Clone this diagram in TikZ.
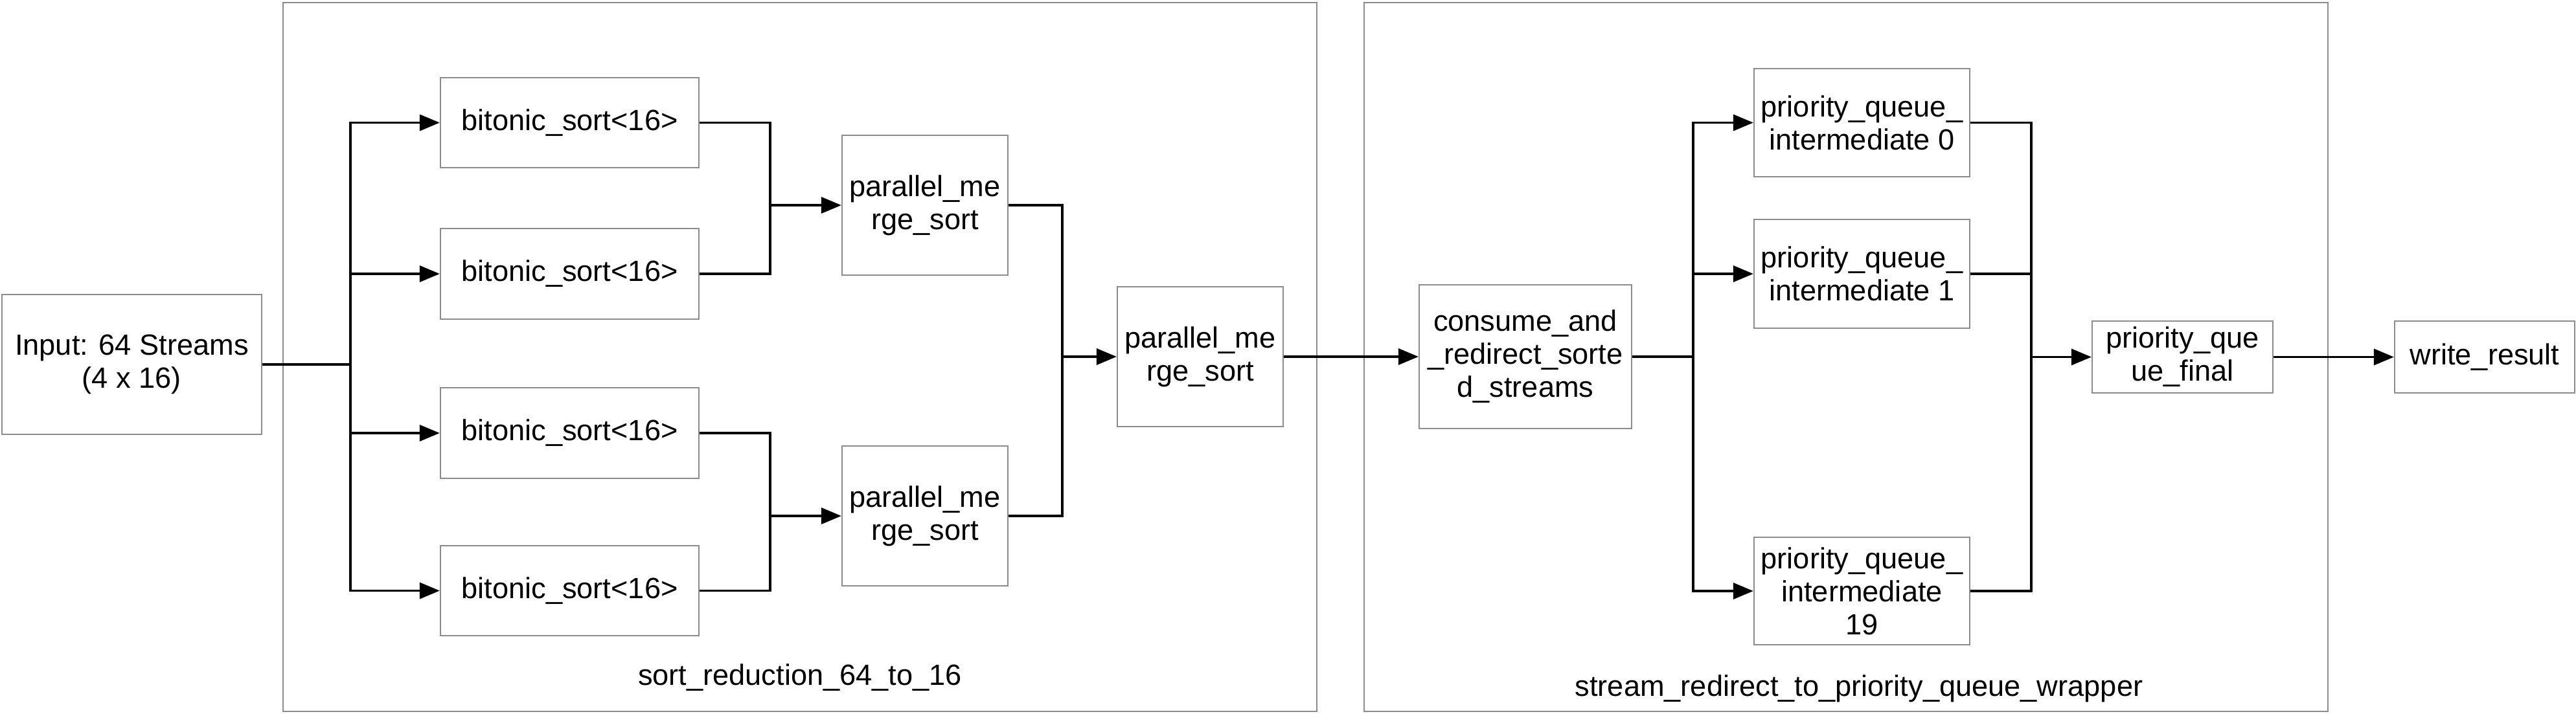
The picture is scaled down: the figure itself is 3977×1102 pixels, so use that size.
\documentclass[tikz,border=0pt]{standalone}
\usepackage{fontspec}
\setmainfont{Liberation Sans}
\usetikzlibrary{arrows.meta}
\definecolor{boxgray}{HTML}{8C8C8C}

\begin{document}
\begin{tikzpicture}[x=0.01cm,y=-0.01cm]
\tikzstyle{box}=[draw=boxgray, line width=0.02cm, rectangle, inner sep=0pt, align=center, font=\fontsize{12.85}{14.5}\selectfont]
\tikzstyle{group}=[draw=boxgray, line width=0.02cm]
\tikzstyle{grouplabel}=[anchor=base, inner sep=0pt, font=\fontsize{12.85}{14.5}\selectfont]
\tikzstyle{wire}=[line width=0.035cm]
\tikzstyle{flow}=[wire, -{Triangle[length=0.31cm,width=0.25cm]}]
\useasboundingbox (0,0) rectangle (3977,1102);

    % clusters
    \draw[group] (437,3.5) rectangle (2033,1099);
    \draw[group] (2106,3.5) rectangle (3594,1099);
    \node[grouplabel] (l1) at (1235,1058) {sort\_reduction\_64\_to\_16};
    \node[grouplabel] (l2) at (2870,1075) {stream\_redirect\_to\_priority\_queue\_wrapper};

    \node[box, minimum width=4.01cm, minimum height=2.16cm] (in) at (203.5,563) {Input: 64 Streams\\(4 x 16)};
    \node[box, minimum width=3.99cm, minimum height=1.39cm] (b1) at (879.5,189.5) {bitonic\_sort<16>};
    \node[box, minimum width=3.99cm, minimum height=1.39cm] (b2) at (879.5,423) {bitonic\_sort<16>};
    \node[box, minimum width=3.99cm, minimum height=1.39cm] (b3) at (879.5,669) {bitonic\_sort<16>};
    \node[box, minimum width=3.99cm, minimum height=1.39cm] (b4) at (879.5,912.5) {bitonic\_sort<16>};
    \node[box, minimum width=2.56cm, minimum height=2.15cm] (p1) at (1428,317) {parallel\_me\\rge\_sort};
    \node[box, minimum width=2.56cm, minimum height=2.15cm] (p2) at (1428,797) {parallel\_me\\rge\_sort};
    \node[box, minimum width=2.56cm, minimum height=2.15cm] (p3) at (1853,551) {parallel\_me\\rge\_sort};
    \node[box, minimum width=3.28cm, minimum height=2.21cm] (cs) at (2355,551) {consume\_and\\\_redirect\_sorte\\d\_streams};
    \node[box, minimum width=3.33cm, minimum height=1.67cm] (q0) at (2874.5,189.5) {priority\_queue\_\\intermediate 0};
    \node[box, minimum width=3.33cm, minimum height=1.67cm] (q1) at (2874.5,423) {priority\_queue\_\\intermediate 1};
    \node[box, minimum width=3.33cm, minimum height=1.65cm] (q19) at (2874.5,913) {priority\_queue\_\\intermediate\\19};
    \node[box, minimum width=2.79cm, minimum height=1.11cm] (qf) at (3369.5,551.5) {priority\_que\\ue\_final};
    \node[box, minimum width=2.78cm, minimum height=1.11cm] (wr) at (3836,551.5) {write\_result};

    \coordinate (f1) at (541,563);
    \coordinate (m1) at (1189,317);
    \coordinate (m2) at (1189,797);
    \coordinate (m3) at (1640,551);
    \coordinate (f2) at (2614,551);
    \coordinate (m4) at (3136,551.5);

    \draw[wire] (in.east) -- (f1);
    \draw[flow] (f1) |- (b1.west);
    \draw[flow] (f1) |- (b2.west);
    \draw[flow] (f1) |- (b3.west);
    \draw[flow] (f1) |- (b4.west);

    \draw[wire] (b1.east) -| (m1);
    \draw[wire] (b2.east) -| (m1);
    \draw[flow] (m1) -- (p1.west);
    \draw[wire] (b3.east) -| (m2);
    \draw[wire] (b4.east) -| (m2);
    \draw[flow] (m2) -- (p2.west);

    \draw[wire] (p1.east) -| (m3);
    \draw[wire] (p2.east) -| (m3);
    \draw[flow] (m3) -- (p3.west);

    \draw[flow] (p3.east) -- (cs.west);

    \draw[wire] (cs.east) -- (f2);
    \draw[flow] (f2) |- (q0.west);
    \draw[flow] (f2) |- (q1.west);
    \draw[flow] (f2) |- (q19.west);

    \draw[wire] (q0.east) -| (m4);
    \draw[wire] (q1.east) -| (m4);
    \draw[wire] (q19.east) -| (m4);
    \draw[flow] (m4) -- (qf.west);
    \draw[flow] (qf.east) -- (wr.west);

\end{tikzpicture}
\end{document}
